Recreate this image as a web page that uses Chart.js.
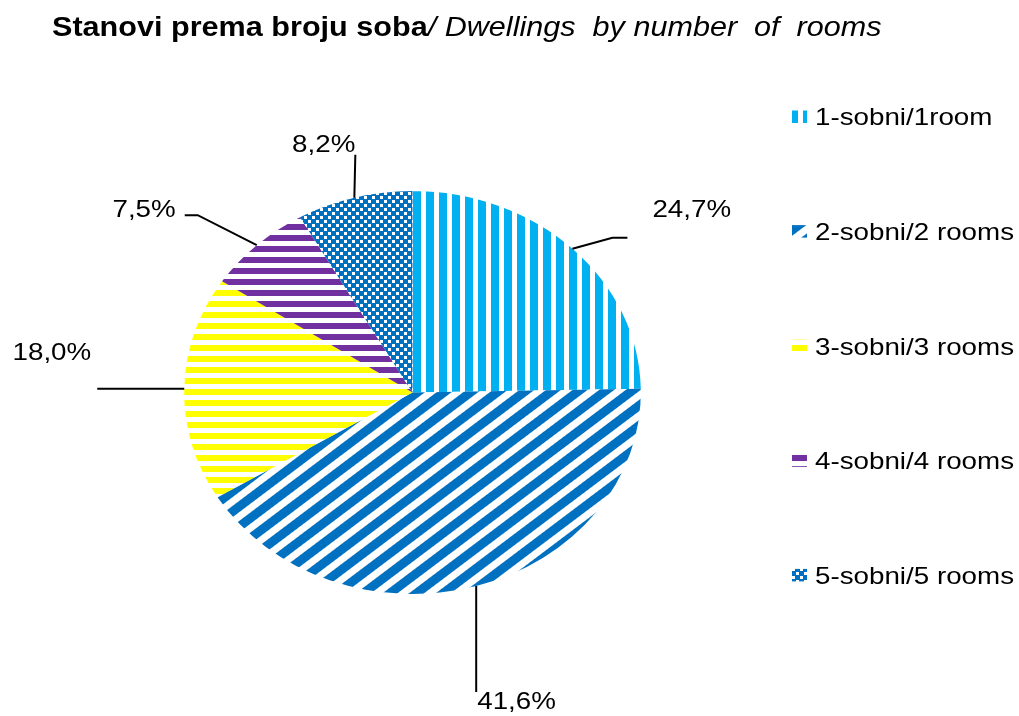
<!DOCTYPE html>
<html><head><meta charset="utf-8">
<script src="https://cdn.jsdelivr.net/npm/chart.js@4.4.1/dist/chart.umd.min.js"></script>
<style>html,body{margin:0;padding:0;background:#fff;overflow:hidden}canvas{display:block}</style>
</head><body>
<canvas id="c" width="1019" height="716"></canvas>
<script>
// ---- data ----
const titleBold = 'Stanovi prema broju soba';
const titleItalic = '/ Dwellings  by number  of  rooms';
const categories = ['1-sobni/1room', '2-sobni/2 rooms', '3-sobni/3 rooms', '4-sobni/4 rooms', '5-sobni/5 rooms'];
const shares = [24.7, 41.6, 18.0, 7.5, 8.2];
const valueLabels = ['24,7%', '41,6%', '18,0%', '7,5%', '8,2%'];

// ---- layout / style ----
const SX = 1.133;              // horizontal stretch of the whole picture (ellipse)
const FONT = '"Liberation Sans", Arial, sans-serif';
const LIGHT_BLUE = '#00b0f0', BLUE = '#0070c0', YELLOW = '#ffff00', PURPLE = '#7030a0';
const leaders = [
  {path: [[40, -11], [55, -11]], label: [80, -32], align: 'left'},
  {path: [[0, 106]], label: [1, 123], align: 'left'},
  {path: [[-87, 0]], label: [-93, -29], align: 'right'},
  {path: [[-59, -30], [-72, -30]], label: [-81, -28], align: 'right'},
  {path: [[1, -43]], label: [1, -46], align: 'right'}
];

const canvas = document.getElementById('c');
const ctx0 = canvas.getContext('2d');
function tile(w, h, draw) {
  const c = document.createElement('canvas'); c.width = w; c.height = h;
  const g = c.getContext('2d'); g.fillStyle = '#fff'; g.fillRect(0, 0, w, h); draw(g); return c;
}
const tiles = [
  tile(13, 13, g => { g.fillStyle = LIGHT_BLUE; g.fillRect(0, 0, 8, 13); }),
  tile(16, 16, g => { g.fillStyle = BLUE; g.fillRect(0, 0, 16, 9); }),
  tile(11, 11, g => { g.fillStyle = YELLOW; g.fillRect(0, 0, 11, 6); }),
  tile(11, 11, g => { g.fillStyle = PURPLE; g.fillRect(0, 0, 11, 6); }),
  tile(8, 8, g => { g.fillStyle = BLUE; g.fillRect(0, 0, 8, 8); g.fillStyle = '#fff'; g.fillRect(0, 0, 3, 3); g.fillRect(4, 4, 3, 3); })
];
function makePatterns(base) {
  return tiles.map((t, i) => {
    const p = ctx0.createPattern(t, 'repeat');
    let m = base.translate(0, 0);
    if (i === 0) m = m.translate(10, 0);
    if (i === 1) m = m.rotate(-37);
    if (i === 2 || i === 3) m = m.translate(0, 4);
    p.setTransform(m);
    return p;
  });
}
const piePatterns = makePatterns(new DOMMatrix().scale(1 / SX, 1));
const legendPatterns = makePatterns(new DOMMatrix());

function stretchedText(ctx, text, x, y, font, align) {
  ctx.save(); ctx.translate(x, y); ctx.scale(SX, 1);
  ctx.font = font; ctx.textAlign = align || 'left'; ctx.textBaseline = 'alphabetic';
  ctx.fillStyle = '#000'; ctx.fillText(text, 0, 0);
  const w = ctx.measureText(text).width * SX;
  ctx.restore(); return w;
}

const ellipsePlugin = {
  id: 'ellipse',
  beforeDatasetsDraw(ch) { ch.ctx.save(); ch.ctx.scale(SX, 1); },
  afterDatasetsDraw(ch) { ch.ctx.restore(); }
};

const annotPlugin = {
  id: 'annot',
  afterDraw(ch) {
    const ctx = ch.ctx;
    let w = stretchedText(ctx, titleBold, 52, 36, 'bold 27px ' + FONT);
    stretchedText(ctx, titleItalic, 52 + w, 36, 'italic 27px ' + FONT);
    const meta = ch.getDatasetMeta(0);
    meta.data.forEach((arc, i) => {
      const mid = (arc.startAngle + arc.endAngle) / 2;
      const ax = (arc.x + arc.outerRadius * Math.cos(mid)) * SX;
      const ay = arc.y + arc.outerRadius * Math.sin(mid);
      const L = leaders[i];
      ctx.save(); ctx.strokeStyle = '#000'; ctx.lineWidth = 2;
      ctx.beginPath(); ctx.moveTo(ax, ay);
      L.path.forEach(p => ctx.lineTo(ax + p[0], ay + p[1]));
      ctx.stroke(); ctx.restore();
      stretchedText(ctx, valueLabels[i], ax + L.label[0], ay + L.label[1], '24.5px ' + FONT, L.align);
    });
    categories.forEach((name, i) => {
      const cy = 116.5 + i * 114.6;
      ctx.save(); ctx.fillStyle = legendPatterns[i];
      ctx.fillRect(792, cy - 6, 15, 12.5); ctx.restore();
      stretchedText(ctx, name, 815, cy + 8.8, '24.5px ' + FONT, 'left');
    });
  }
};

const R = 201.5, CXU = 412.5 / SX, CY = 392.5;
new Chart(canvas, {
  type: 'pie',
  data: {
    labels: categories,
    datasets: [{ data: shares, backgroundColor: piePatterns, borderWidth: 0, hoverOffset: 0, clip: false }]
  },
  options: {
    responsive: false, animation: false, devicePixelRatio: 1,
    layout: { padding: { left: CXU - R, right: 1019 - (CXU + R), top: CY - R, bottom: 716 - (CY + R) } },
    plugins: { legend: { display: false }, tooltip: { enabled: false } },
    events: []
  },
  plugins: [ellipsePlugin, annotPlugin]
});
</script>
</body></html>
